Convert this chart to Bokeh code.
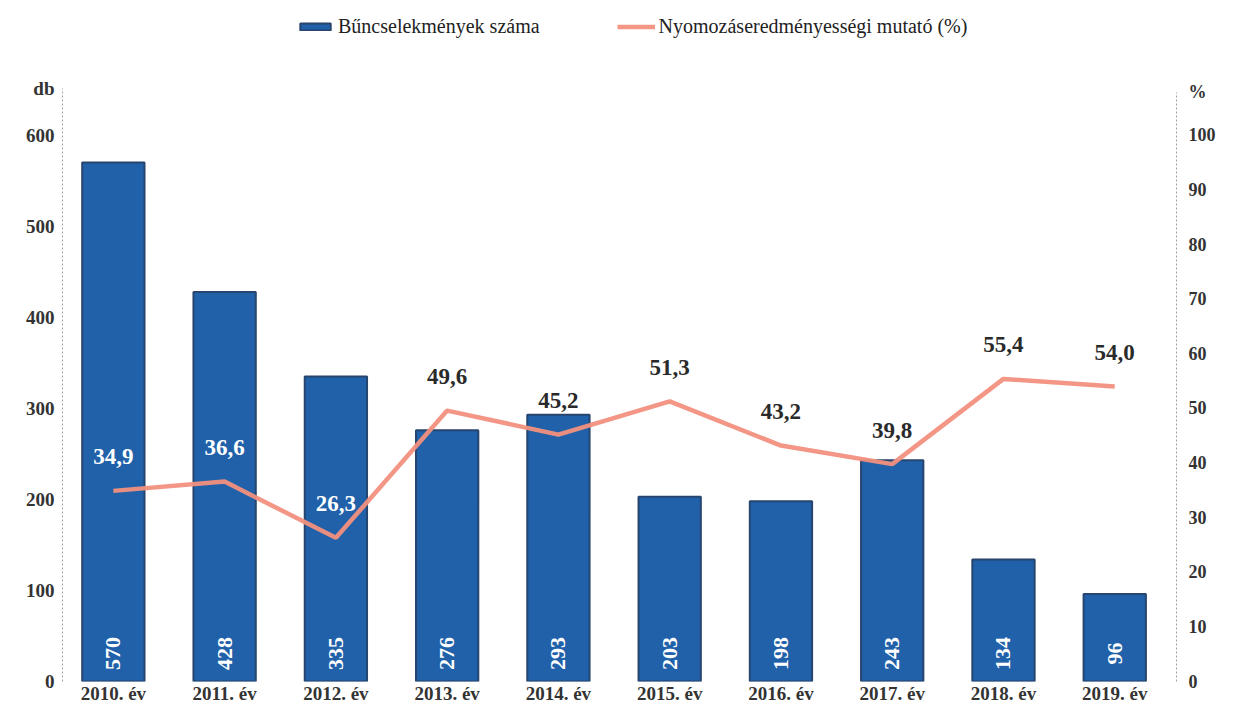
from bokeh.plotting import figure
from bokeh.models import (Range1d, LinearAxis, FixedTicker, ColumnDataSource, LabelSet,
                          Legend, LegendItem)
from bokeh.embed import file_html
from bokeh.resources import INLINE

# ---- data ----
years = ["2010. év", "2011. év", "2012. év", "2013. év", "2014. év",
         "2015. év", "2016. év", "2017. év", "2018. év", "2019. év"]
crimes = [570, 428, 335, 276, 293, 203, 198, 243, 134, 96]
rate = [34.9, 36.6, 26.3, 49.6, 45.2, 51.3, 43.2, 39.8, 55.4, 54.0]
left_ticks = [0, 100, 200, 300, 400, 500, 600]
right_ticks = [0, 10, 20, 30, 40, 50, 60, 70, 80, 90, 100]
left_unit, right_unit = "db", "%"

FONT = "Liberation Serif"
BAR_FILL = "#2061a9"
BAR_LINE = "#26456f"
LINE_COL = "#f2907e"
TXT = "#333333"

# frame geometry (pixels)
W, H = 1218, 706
FR_TOP, FR_BOTTOM = 4, 682
AX_TOP = 135                        # where 600 db / 100 % sit
scale = (FR_BOTTOM - FR_TOP) / (FR_BOTTOM - AX_TOP)
left_end = max(left_ticks) * scale
right_end = max(right_ticks) * scale
db_pos = max(left_ticks) * (FR_BOTTOM - 88) / (FR_BOTTOM - AX_TOP)
pct_pos = max(right_ticks) * (FR_BOTTOM - 92) / (FR_BOTTOM - AX_TOP)

xs = list(range(len(years)))
label_y_db = [r * 6 + 35 for r in rate]
lab_colors = ["white" if c > ly + 10 else "#2a2a2a" for c, ly in zip(crimes, label_y_db)]

src = ColumnDataSource(dict(
    x=xs, crimes=crimes, rate=rate, zero=[0] * len(xs),
    clab=[str(c) for c in crimes],
    rlab=[f"{r:.1f}".replace(".", ",") for r in rate],
    rcol=lab_colors,
))

p = figure(width=W, height=H, output_backend="svg", toolbar_location=None,
           x_range=Range1d(-0.457, 9.555), y_range=Range1d(0, left_end),
           min_border_left=62, min_border_right=38, min_border_top=FR_TOP,
           min_border_bottom=H - FR_BOTTOM,
           background_fill_color="white", border_fill_color="white")
p.outline_line_color = None
p.grid.visible = False
p.extra_y_ranges = {"pct": Range1d(0, right_end)}

bars = p.vbar(x="x", top="crimes", width=0.56, source=src,
              fill_color=BAR_FILL, line_color=BAR_LINE, line_width=2)
line = p.line(x="x", y="rate", source=src, y_range_name="pct",
              line_color=LINE_COL, line_width=4.5, line_alpha=0.95)

# x axis
xa = p.xaxis[0]
xa.ticker = FixedTicker(ticks=xs)
xa.major_label_overrides = {i: y for i, y in enumerate(years)}
xa.axis_line_color = None
xa.major_tick_line_color = None
xa.major_tick_out = 0
xa.major_tick_in = 0
xa.minor_tick_line_color = None
xa.minor_tick_out = 0
xa.major_label_standoff = 1
xa.major_label_text_font = FONT
xa.major_label_text_font_style = "bold"
xa.major_label_text_font_size = "19px"
xa.major_label_text_color = TXT

# left axis (unit "db" shown as label above the 600 tick)
ya = p.yaxis[0]
ya.ticker = FixedTicker(ticks=left_ticks + [db_pos])
ya.major_label_overrides = {db_pos: left_unit}
ya.bounds = (0, db_pos)
ya.axis_line_color = "#a0a0a0"
ya.axis_line_dash = "2 2"
ya.axis_line_width = 1
ya.major_tick_line_color = None
ya.major_tick_out = 0
ya.minor_tick_line_color = None
ya.minor_tick_out = 0
ya.major_label_standoff = 8
ya.major_label_text_font = FONT
ya.major_label_text_font_style = "bold"
ya.major_label_text_font_size = "19px"
ya.major_label_text_color = TXT

# right axis (unit "%")
ra = LinearAxis(y_range_name="pct", ticker=FixedTicker(ticks=right_ticks + [pct_pos]))
ra.major_label_overrides = {pct_pos: right_unit}
ra.bounds = (0, pct_pos)
ra.axis_line_color = "#a0a0a0"
ra.axis_line_dash = "2 2"
ra.major_tick_line_color = None
ra.major_tick_out = 0
ra.minor_tick_line_color = None
ra.minor_tick_out = 0
ra.major_label_standoff = 12
ra.major_label_text_font = FONT
ra.major_label_text_font_style = "bold"
ra.major_label_text_font_size = "18px"
ra.major_label_text_color = TXT
p.add_layout(ra, "right")

# bar value labels (rotated, white, inside bar bottom)
p.add_layout(LabelSet(x="x", y="zero", text="clab", source=src, angle=1.5708,
                      text_align="center", text_baseline="middle", y_offset=28,
                      text_font=FONT, text_font_style="bold", text_font_size="22px",
                      text_color="white"))

# line value labels
p.add_layout(LabelSet(x="x", y="rate", text="rlab", source=src, y_range_name="pct",
                      text_align="center", text_baseline="middle", y_offset=34,
                      text_font=FONT, text_font_style="bold", text_font_size="23px",
                      text_color="rcol"))

legend = Legend(items=[LegendItem(label="Bűncselekmények száma", renderers=[bars]),
                       LegendItem(label="Nyomozáseredményességi mutató (%)", renderers=[line])],
                orientation="horizontal", location=(234, 643),
                glyph_width=38, glyph_height=9, label_standoff=4, spacing=77,
                padding=0, margin=0, border_line_color=None, background_fill_alpha=0,
                label_text_font=FONT, label_text_font_size="20px", label_text_color="#222222")
p.add_layout(legend, "center")

open("out.html", "w").write(file_html(p, INLINE))
